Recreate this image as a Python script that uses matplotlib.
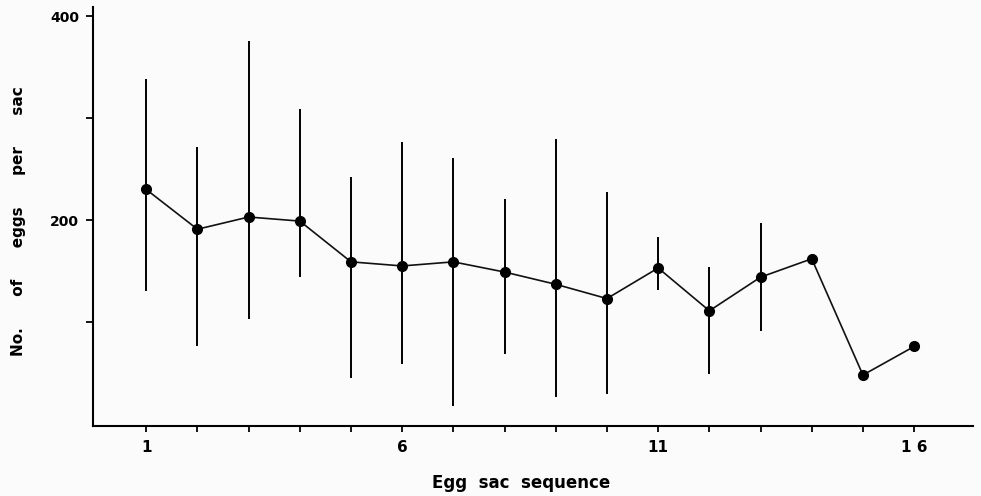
import numpy as np
import matplotlib
matplotlib.use('Agg')
import matplotlib.pyplot as plt

# egg sac sequence, mean no. of eggs per sac, and range (low/high)
sac = np.arange(1, 17)
eggs = [230, 191, 203, 199, 159, 155, 159, 149, 137, 123, 153, 111, 144, 162, 48, 76]
low = [130, 76, 103, 144, 45, 59, 18, 69, 26, 29, 131, 49, 91, None, None, None]
high = [338, 272, 376, 309, 242, 277, 261, 221, 280, 228, 183, 154, 197, None, None, None]

xtick_labels = {1: '1', 6: '6', 11: '11', 16: '1 6'}
ytick_labels = {100: '', 200: '200', 300: '', 400: '400'}

plt.rcParams['font.family'] = ['DejaVu Sans']
plt.rcParams['font.weight'] = 'bold'

fig = plt.figure(figsize=(9.81, 4.96), dpi=100, facecolor='#fbfbfb')
ax = fig.add_axes([93/981, 1 - 426/496, 880/981, 419/496])
ax.set_facecolor('#fbfbfb')

# vertical range bars, no caps
for x, lo, hi in zip(sac, low, high):
    if lo is not None:
        ax.vlines(x, lo, hi, color='black', linewidth=1.4)

ax.plot(sac, eggs, '-', color='#111111', linewidth=1.2)
ax.plot(sac, eggs, 'o', color='black', markersize=7)

ax.set_xlim(-0.04, 17.15)
ax.set_ylim(-2, 409)

for s in ['top', 'right']:
    ax.spines[s].set_visible(False)
for s in ['left', 'bottom']:
    ax.spines[s].set_linewidth(1.5)

ax.set_xticks(sac)
ax.set_xticklabels([xtick_labels.get(int(v), '') for v in sac], fontsize=11, fontweight='bold')
ax.set_yticks(list(ytick_labels.keys()))
ax.set_yticklabels(list(ytick_labels.values()), fontsize=10, fontweight='bold')
ax.tick_params(axis='x', direction='out', length=4, width=1.3, pad=6)
ax.tick_params(axis='y', direction='out', length=5, width=1.3, pad=5)

ax.set_xlabel('Egg  sac  sequence', fontsize=12, fontweight='bold')
ax.xaxis.set_label_coords(0.486, -0.115)
ax.set_ylabel('No.      of      eggs      per      sac', fontsize=11, fontweight='bold')
ax.yaxis.set_label_coords(-0.076, 0.49)

fig.savefig('out.png', dpi=100, facecolor=fig.get_facecolor())
